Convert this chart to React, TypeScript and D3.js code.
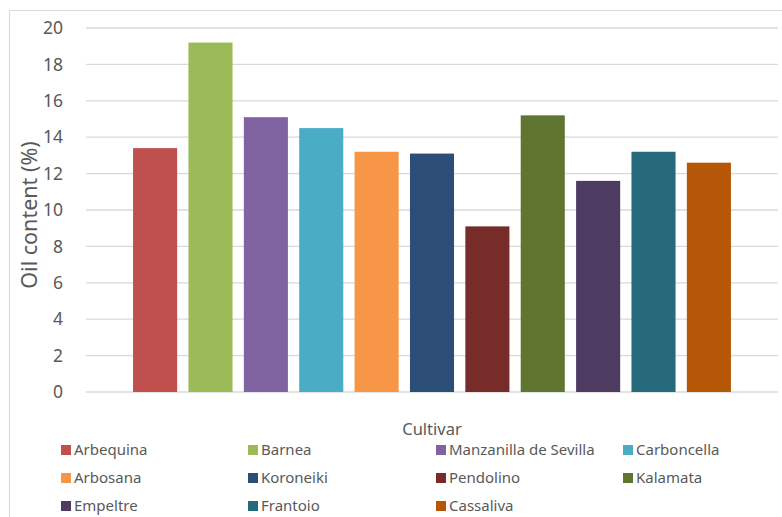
import React from "react";
import * as d3 from "d3";

const cultivars = [
  "Arbequina", "Barnea", "Manzanilla de Sevilla", "Carboncella", "Arbosana",
  "Koroneiki", "Pendolino", "Kalamata", "Empeltre", "Frantoio", "Cassaliva",
];
const oilContent = [13.4, 19.2, 15.1, 14.5, 13.2, 13.1, 9.1, 15.2, 11.6, 13.2, 12.6];
const colors = [
  "#c0504d", "#9bbb59", "#8064a2", "#4bacc6", "#f79646",
  "#2c4d75", "#772c2a", "#5f7530", "#4d3b62", "#276a7c", "#b65708",
];
const yTicks = [0, 2, 4, 6, 8, 10, 12, 14, 16, 18, 20];

const W = 782, H = 517;
const plot = { left: 86, right: 778, top: 28, bottom: 392 };
const FONT = "'Noto Sans', 'Open Sans', sans-serif";
const TXT = "#595959";

export default function App() {
  const y = d3.scaleLinear().domain([0, 20]).range([plot.bottom, plot.top]);
  const x = d3.scaleBand<string>()
    .domain(cultivars)
    .range([plot.left, plot.right])
    .paddingInner(0.204)
    .paddingOuter(0.85);

  const legendCols = [61, 248, 436, 623];
  const legendRows = [450, 478, 506];

  return (
    <div style={{ position: "absolute", left: 0, top: 0 }}>
      <svg width={W} height={H} style={{ display: "block", background: "#fff" }}>
        <rect x={9.5} y={10.5} width={780} height={515} fill="#fff" stroke="#d9d9d9" strokeWidth={1} />
        {yTicks.map((t) => (
          <g key={t}>
            <line x1={plot.left} x2={plot.right} y1={y(t)} y2={y(t)}
              stroke="#d9d9d9" strokeWidth={t === 0 ? 1.5 : 1.3} />
            <text x={63} y={y(t)} dy="0.35em" textAnchor="end" fontFamily={FONT}
              fontSize={17.5} fill={TXT}>{t}</text>
          </g>
        ))}
        {cultivars.map((c, i) => (
          <rect key={c} x={x(c)} y={y(oilContent[i])} width={x.bandwidth()}
            height={y(0) - y(oilContent[i])} fill={colors[i]} />
        ))}
        <text transform={`translate(37, ${(plot.top + plot.bottom) / 2 + 5}) rotate(-90)`}
          textAnchor="middle" fontFamily={FONT} fontSize={21.5} fill={TXT}>Oil content (%)</text>
        <text x={432} y={435} textAnchor="middle" fontFamily={FONT} fontSize={16.5} fill={TXT}>Cultivar</text>
        {cultivars.map((c, i) => {
          const cx = legendCols[i % 4];
          const cy = legendRows[Math.floor(i / 4)];
          return (
            <g key={"lg" + c}>
              <rect x={cx} y={cy - 5} width={10} height={10} fill={colors[i]} />
              <text x={cx + 13} y={cy} dy="0.35em" fontFamily={FONT} fontSize={15} fill={TXT}>{c}</text>
            </g>
          );
        })}
      </svg>
    </div>
  );
}
